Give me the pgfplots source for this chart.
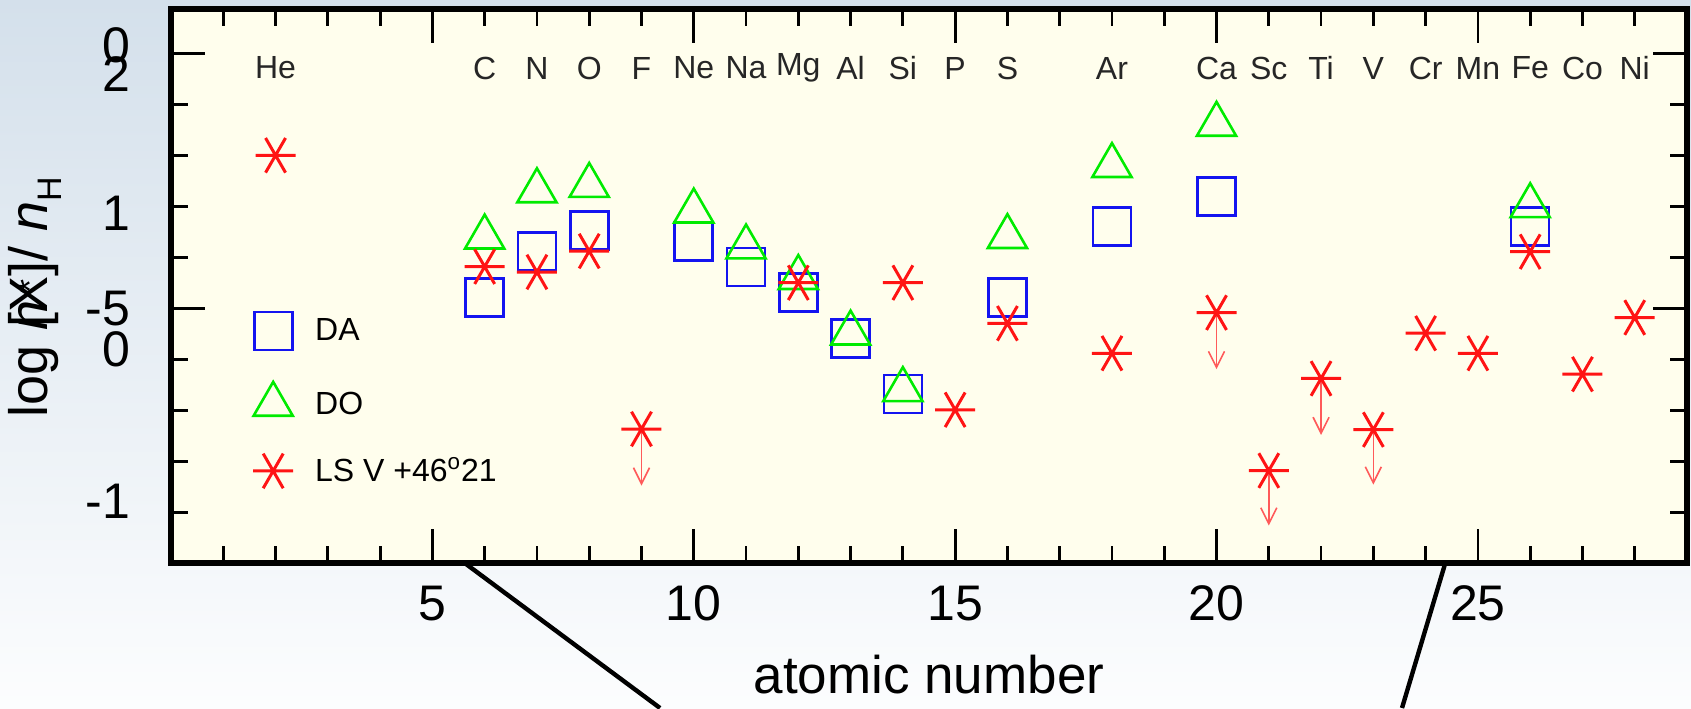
\documentclass[border=0pt]{standalone}
\usepackage{pgfplots}
\pgfplotsset{compat=1.18}
\usepackage{fontspec}
\setmainfont{Liberation Sans}
\usetikzlibrary{arrows.meta}
\definecolor{cream}{RGB}{255,254,237}
\definecolor{bgtop}{RGB}{212,224,235}
\definecolor{bgmid}{RGB}{236,241,246}
\definecolor{bgbot}{RGB}{252,253,254}
\definecolor{mygreen}{RGB}{0,235,0}
\definecolor{myblue}{RGB}{20,20,240}
\definecolor{myred}{RGB}{255,20,20}
\definecolor{arrowred}{RGB}{255,90,90}

\pgfplotstableread{
x y
6 0.404
7 0.705
8 0.842
10 0.770
11 0.604
12 0.437
13 0.138
14 -0.227
16 0.404
18 0.870
20 1.068
26 0.870
}\datDA

\pgfplotstableread{
x y
6 0.800
7 1.103
8 1.138
10 0.970
11 0.735
12 0.535
13 0.171
14 -0.199
16 0.803
18 1.268
20 1.538
26 1.005
}\datDO

\pgfplotstableread{
x y
2 1.336
6 0.607
7 0.572
8 0.709
9 -0.456
12 0.502
14 0.502
15 -0.330
16 0.236
18 0.040
20 0.306
21 -0.728
22 -0.125
23 -0.460
24 0.171
25 0.040
26 0.705
27 -0.097
28 0.274
}\datLS

\pgfplotstableread{
x y dy
9 -0.456 -0.37
20 0.306 -0.37
21 -0.728 -0.36
22 -0.125 -0.37
23 -0.460 -0.36
}\datLim

\begin{document}
\begin{tikzpicture}
\useasboundingbox (0,0) rectangle (845.5pt,354pt);
\shade[top color=bgtop, middle color=bgmid, bottom color=bgbot] (0,0) rectangle (845.5pt,354pt);
\draw[line width=2.2pt] (233pt,72pt) -- (330pt,0pt);
\draw[line width=2.2pt] (722.5pt,72pt) -- (701pt,0pt);
\begin{axis}[
  at={(85.5pt,72.5pt)}, anchor=south west,
  width=758pt, height=277pt, scale only axis,
  xmin=0, xmax=29, ymin=-1.3333, ymax=2.294,
  axis background/.style={fill=cream},
  axis line style={line width=3pt},
  tick align=inside,
  xtick={5,10,15,20,25},
  minor xtick={1,2,3,4,6,7,8,9,11,12,13,14,16,17,18,19,21,22,23,24,26,27,28},
  ytick={0.33333,2}, yticklabels={,},
  minor ytick={-1,-0.66667,-0.33333,0,0.66667,1,1.33333,1.66667},
  extra y ticks={2.055,1.866,0.955,0.334,0.067,-0.93},
  extra y tick labels={0,2,1,-5,0,-1},
  extra y tick style={major tick length=0pt},
  major tick length=17pt, minor tick length=8.5pt,
  every tick/.style={black, line width=1.4pt},
  /pgf/number format/assume math mode=true,
  tick label style={font=\fontsize{25}{30}\selectfont},
  xticklabel style={yshift=-8pt},
  yticklabel style={xshift=-17pt},
  xlabel={atomic number},
  xlabel style={font=\fontsize{26.5}{31}\selectfont, at={(axis description cs:0.5,0)}, anchor=center, yshift=-56pt},
  ylabel={log \rlap{\itshape n}\hspace{0.05em}[X\llap{\raisebox{0.1em}{\fontsize{18}{20}\selectfont *}\hspace{0.05em}}]/ \textit{n}\raisebox{-0.25em}{\fontsize{17}{19}\selectfont H}},
  ylabel style={font=\fontsize{27}{31}\selectfont, at={(axis description cs:-0.0897,0.48)}, anchor=center, rotate=0},
  legend style={draw=none, fill=none, at={(axis cs:1.45,-0.268)}, anchor=west, row sep=16pt,
    font=\fontsize{16}{19}\selectfont,
    /tikz/every odd column/.append style={column sep=9pt}},
  legend cell align=left,
  clip=false,
]
\addplot[only marks, mark=square, mark size=9.5pt, color=myblue, line width=1.3pt] table[x=x,y=y] {\datDA};
\addlegendentry{DA}
\addplot[only marks, mark=triangle, mark size=11.3pt, color=mygreen, line width=1.3pt] table[x=x,y=y] {\datDO};
\addlegendentry{DO}
\addplot[only marks, mark=asterisk, mark size=10pt, mark options={rotate=90}, color=myred, line width=1.5pt] table[x=x,y=y] {\datLS};
\addlegendentry{LS V +46\textsuperscript{o}21}
\addplot[arrowred, line width=0.8pt, -{Straight Barb[length=8pt,width=8pt]},
  quiver={u=0, v=\thisrow{dy}}, forget plot] table[x=x,y=y] {\datLim};

\begin{scope}[every node/.style={font=\fontsize{16}{19}\selectfont, text=black!85}]
\node at (axis cs:2,1.907) {He};
\node at (axis cs:6,1.907) {C};
\node at (axis cs:7,1.907) {N};
\node at (axis cs:8,1.907) {O};
\node at (axis cs:9,1.907) {F};
\node at (axis cs:10,1.907) {Ne};
\node at (axis cs:11,1.907) {Na};
\node at (axis cs:12,1.907) {Mg};
\node at (axis cs:13,1.907) {Al};
\node at (axis cs:14,1.907) {Si};
\node at (axis cs:15,1.907) {P};
\node at (axis cs:16,1.907) {S};
\node at (axis cs:18,1.907) {Ar};
\node at (axis cs:20,1.907) {Ca};
\node at (axis cs:21,1.907) {Sc};
\node at (axis cs:22,1.907) {Ti};
\node at (axis cs:23,1.907) {V};
\node at (axis cs:24,1.907) {Cr};
\node at (axis cs:25,1.907) {Mn};
\node at (axis cs:26,1.907) {Fe};
\node at (axis cs:27,1.907) {Co};
\node at (axis cs:28,1.907) {Ni};
\end{scope}
\end{axis}
\end{tikzpicture}
\end{document}
